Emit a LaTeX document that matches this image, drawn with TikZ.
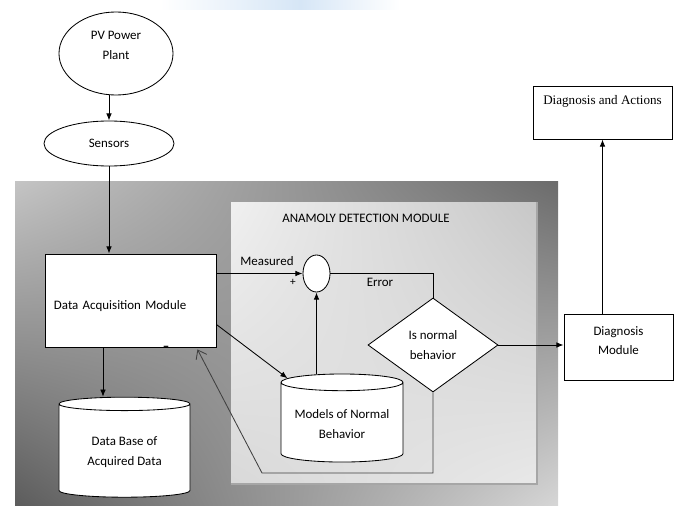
\documentclass[tikz,border=0pt]{standalone}
\usepackage{fontspec}
\setmainfont{Carlito}
\newfontfamily\actfont{Liberation Serif}
\usetikzlibrary{arrows.meta,calc,positioning,shapes.geometric,shadings}
\definecolor{haze}{RGB}{214,230,246}

\tikzset{
  arr/.style={line width=0.6pt, -{Latex[length=1.8mm,width=1.4mm]}},
  backarr/.style={line width=0.6pt, black!75, -{Straight Barb[length=2mm,width=3mm]}},
  blob/.style={ellipse, draw, fill=white, line width=0.6pt, align=center, inner sep=0pt},
  box/.style={rectangle, draw, fill=white, line width=0.6pt, align=center},
  store/.style={cylinder, shape border rotate=90, aspect=0.16, draw, fill=white, line width=0.6pt, align=center},
  check/.style={diamond, draw, fill=white, line width=0.6pt, align=center, inner sep=0pt},
  lbl/.style={inner sep=1pt}
}

\begin{document}
\begin{tikzpicture}[x=0.025cm, y=-0.025cm, font=\fontsize{9.2}{14}\selectfont]
  \useasboundingbox (0,0) rectangle (680,506);

  % faint strip at the top edge
  \shade[left color=white, right color=haze] (160,0) rectangle (300,9);
  \shade[left color=haze, right color=white] (300,0) rectangle (400,9);

  % outer and inner panels
  \shade[upper left=black!23, upper right=black!58, lower left=black!64, lower right=black!16] (15,181) rectangle (558,506);
  \shade[upper left=black!6, upper right=black!22, lower left=black!15, lower right=black!9] (231,202) rectangle (537,484);
  \draw[black!35, line width=1pt] (231,484) -- (537,484) -- (537,202);

  % nodes
  \node[blob, minimum width=2.85cm, minimum height=2.075cm, text depth=12pt] (pv) at (116,53.5) {PV Power\\Plant};
  \node[blob, minimum width=3.25cm, minimum height=1.125cm] (sens) at (109,143.5) {Sensors};
  \node[box, align=left, text width=3.825cm, inner xsep=0.225cm, minimum height=2.325cm, text height=14pt] (daq) at (130.5,300.5) {Data Acquisition Module};
  \node[blob, minimum width=0.675cm, minimum height=0.925cm] (sum) at (316.5,273.5) {};
  \node[check, minimum width=3.25cm, minimum height=2.35cm] (dia) at (433,345) {Is normal\\behavior};
  \node[box, minimum width=2.725cm, minimum height=1.65cm, text depth=9pt] (diag) at (618.5,347) {Diagnosis\\Module};
  \node[box, minimum width=3.475cm, minimum height=1.325cm] (act) at (602.5,112.5) {};
  \node[font=\actfont\fontsize{9.3}{11}\selectfont] (acttxt) at ($(act.north)+(0,16)$) {Diagnosis and Actions};
  \node[store, minimum width=3.05cm, minimum height=2.2cm] (models) at (342,424) {Models of Normal\\Behavior};
  \node[store, minimum width=3.275cm, minimum height=2.5cm] (db) at (124.5,452) {Data Base of\\Acquired Data};

  % labels
  \node[lbl] (title) at (366,218) {ANAMOLY DETECTION MODULE};
  \node[lbl] (meas) at (267,261) {Measured};
  \node[lbl, font=\fontsize{8}{9}\selectfont] (plus) at (293,282) {+};
  \node[lbl] (err) at (380,282) {Error};
  \node[lbl] (minus) at (166,348) {\bfseries --};

  % connectors
  \draw[arr] (pv.south -| sens.north) -- (sens.north);
  \draw[arr] (sens.south) -- (sens.south |- daq.north);
  \draw[arr] (daq.east |- sum.west) -- (sum.west);
  \draw[line width=0.6pt] (sum.east) -| (dia.north);
  \draw[arr] (dia.east) -- (dia.east -| diag.west);
  \draw[arr] (act.south |- diag.north) -- (act.south);
  \draw[arr] ($(daq.east)+(0,24)$) -- (models.140);
  \draw[arr] (sum.south |- models.north) -- (sum.south);
  \coordinate (dbin) at ($(daq.south west)!0.34!(daq.south east)$);
  \draw[arr] (dbin) -- (dbin |- db.north);
  \coordinate (fbend) at (262,473);
  \coordinate (fbtip) at ($(daq.south east)+(-19,2)$);
  \draw[backarr] (dia.south) |- (fbend) -- (fbtip);
\end{tikzpicture}
\end{document}
